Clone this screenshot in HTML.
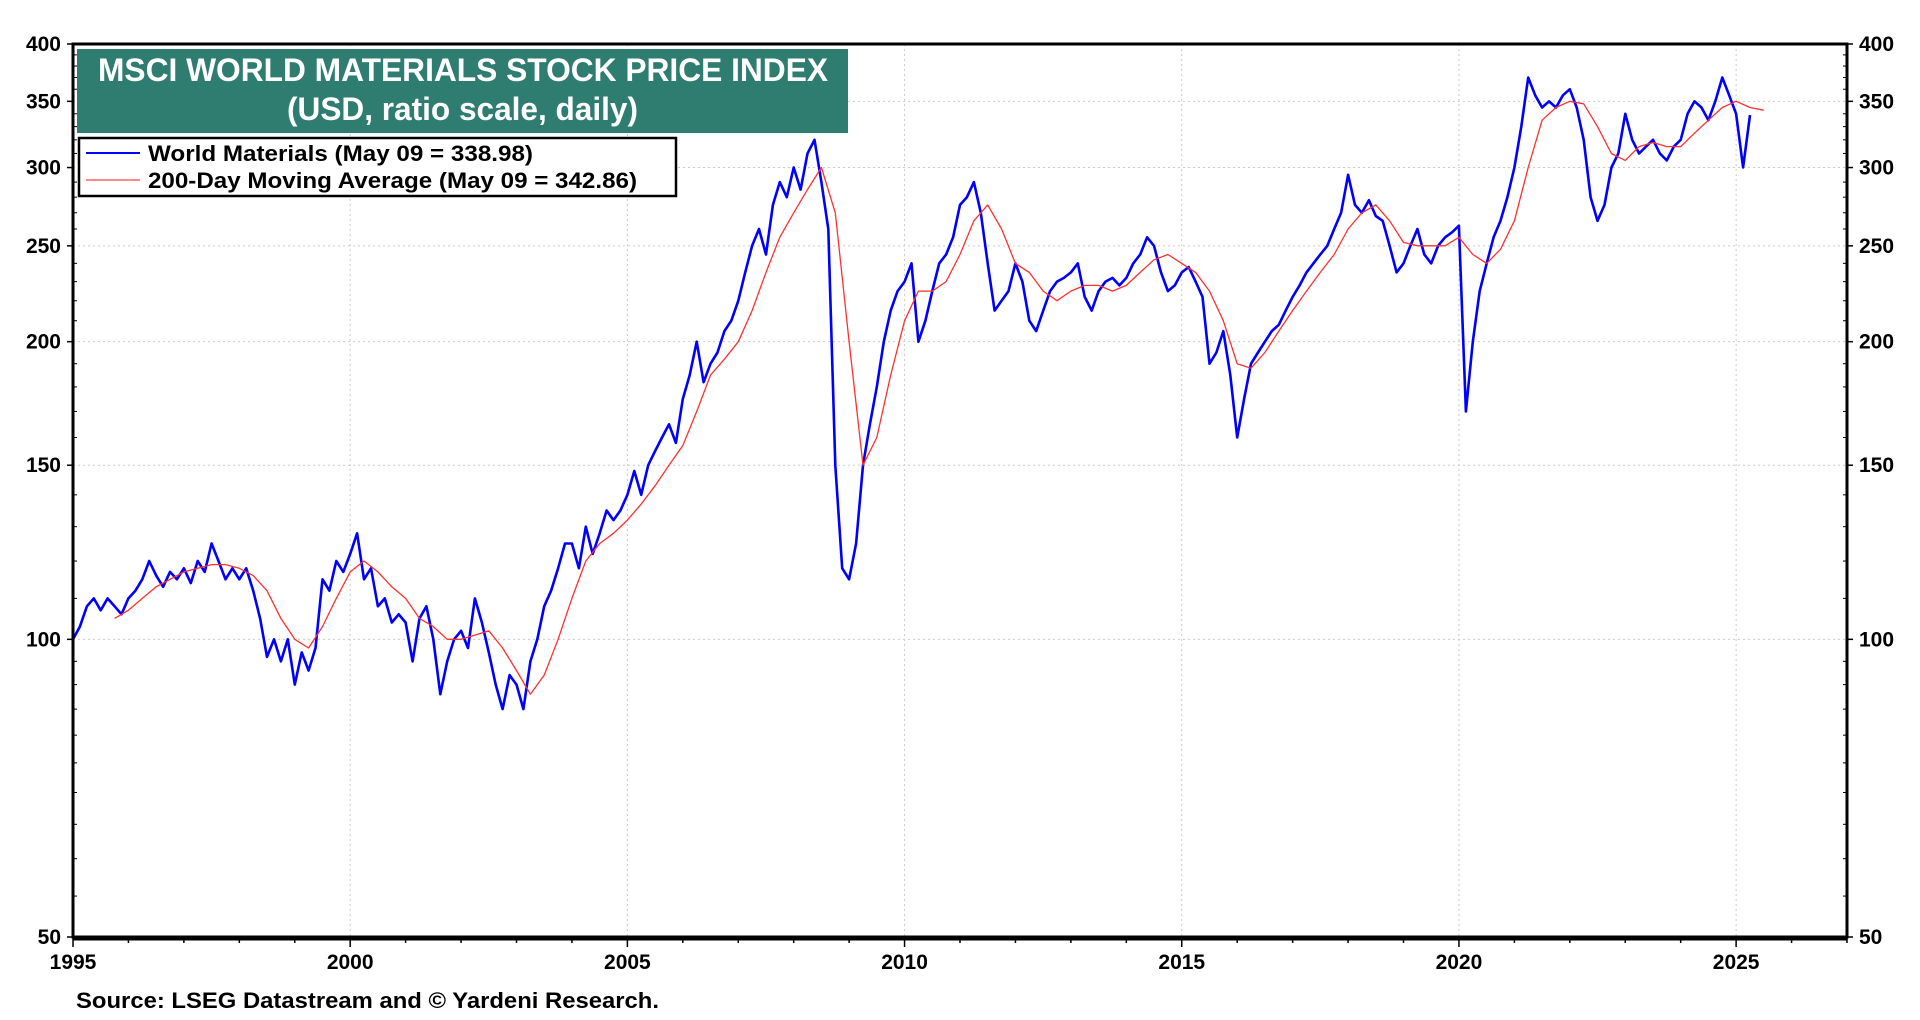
<!DOCTYPE html>
<html><head><meta charset="utf-8"><style>
html,body{margin:0;padding:0;background:#fff;}
svg{display:block;font-family:"Liberation Sans",Arial,sans-serif;font-weight:bold;}
</style></head><body>
<svg id="chart" width="1920" height="1020" viewBox="0 0 1920 1020" xmlns="http://www.w3.org/2000/svg">
<g id="grid"></g>
<g id="series"></g>
<g id="axes"></g>
<g>
<rect x="77" y="49" width="771" height="84" fill="#2e7d70"/>
<text x="98" y="81" textLength="730" lengthAdjust="spacingAndGlyphs" fill="#fff" font-size="32">MSCI WORLD MATERIALS STOCK PRICE INDEX</text>
<text x="287" y="120" textLength="351" lengthAdjust="spacingAndGlyphs" fill="#fff" font-size="32">(USD, ratio scale, daily)</text>
</g>
<g>
<rect x="79" y="138" width="597" height="58" fill="#fff" stroke="#000" stroke-width="2.5"/>
<line x1="86" y1="153" x2="140" y2="153" stroke="#0000ff" stroke-width="2"/>
<text x="148" y="161" textLength="385" lengthAdjust="spacingAndGlyphs" font-size="22">World Materials (May 09 = 338.98)</text>
<line x1="86" y1="180" x2="140" y2="180" stroke="#ff4040" stroke-width="1.3"/>
<text x="148" y="188" textLength="489" lengthAdjust="spacingAndGlyphs" font-size="22">200-Day Moving Average (May 09 = 342.86)</text>
</g>
<text x="76" y="1008" textLength="583" lengthAdjust="spacingAndGlyphs" font-size="22">Source: LSEG Datastream and © Yardeni Research.</text>
</svg>
<script>
const yTicks=[50,100,150,200,250,300,350,400];
const xTicks=[1995,2000,2005,2010,2015,2020,2025];
const priceStart=1995.0;
const priceStep=0.125;
const priceValues=[
100,103,108,110,107,110,108,106,
110,112,115,120,116,113,117,115,
118,114,120,117,125,120,115,118,
115,118,112,105,96,100,95,100,
90,97,93,98,115,112,120,117,
122,128,115,118,108,110,104,106,
104,95,105,108,100,88,95,100,
102,98,110,104,97,90,85,92,
90,85,95,100,108,112,118,125,
125,118,130,122,128,135,132,135,
140,148,140,150,155,160,165,158,
175,185,200,182,190,195,205,210,
220,235,250,260,245,275,290,280,
300,285,310,320,290,260,150,118,
115,125,150,165,180,200,215,225,
230,240,200,210,225,240,245,255,
275,280,290,270,240,215,220,225,
240,230,210,205,215,225,230,232,
235,240,222,215,225,230,232,228,
232,240,245,255,250,235,225,228,
235,238,230,222,190,195,205,185,
160,175,190,195,200,205,208,215,
222,228,235,240,245,250,260,270,
295,275,270,278,268,265,250,235,
240,250,260,245,240,250,255,258,
262,170,200,225,240,255,265,280,
300,330,370,355,345,350,345,355,
360,345,320,280,265,275,300,310,
340,320,310,315,320,310,305,315,
320,340,350,345,335,350,370,355,
340,300,338.98];
const maStart=1995.75;
const maStep=0.25;
const maValues=[105,107,110,113,115,117,118,119,119,118,116,112,105,100,98,103,110,117,120,117,113,110,105,103,100,100,101,102,98,93,88,92,100,110,120,125,128,132,137,143,150,157,170,185,192,200,215,235,255,270,285,300,270,200,150,160,185,210,225,225,230,245,265,275,260,240,235,225,220,225,228,228,225,228,235,242,245,240,235,225,210,190,188,195,205,215,225,235,245,260,270,275,265,252,250,250,250,255,245,240,248,265,300,335,345,350,348,330,310,305,315,318,315,315,325,335,345,350,345,342.86];

const L=73,R=1847,T=44,B=937,X0=1995,X1=2027,Y0=50,Y1=400;
const xs=v=>L+(v-X0)/(X1-X0)*(R-L);
const ys=v=>B-Math.log(v/Y0)/Math.log(Y1/Y0)*(B-T);
const NS="http://www.w3.org/2000/svg";
function mk(tag,parent,attrs){const e=document.createElementNS(NS,tag);for(const k in attrs)e.setAttribute(k,attrs[k]);parent.appendChild(e);return e;}
const grid=document.getElementById('grid'),axes=document.getElementById('axes'),series=document.getElementById('series');
yTicks.forEach(v=>{
  if(v>Y0&&v<Y1){const g=mk('line',grid,{x1:L,x2:R,y1:ys(v),y2:ys(v),stroke:'#ccc','stroke-dasharray':'2,3'});
  
  }
  const t1=mk('text',axes,{x:L-12,y:ys(v)+7,'text-anchor':'end','font-size':'21'});t1.textContent=v;
  
  
  const t2=mk('text',axes,{x:R+12,y:ys(v)+7,'text-anchor':'start','font-size':'21'});t2.textContent=v;
  
  
  mk('line',axes,{x1:L-6,x2:L,y1:ys(v),y2:ys(v),stroke:'#000','stroke-width':1.5});
  mk('line',axes,{x1:R,x2:R+6,y1:ys(v),y2:ys(v),stroke:'#000','stroke-width':1.5});
});
for(let v=55;v<400;v+=(v<100?5:10)){if(yTicks.includes(v))continue;
  mk('line',axes,{x1:L,x2:L+4,y1:ys(v),y2:ys(v),stroke:'#000','stroke-width':1});
  mk('line',axes,{x1:R-4,x2:R,y1:ys(v),y2:ys(v),stroke:'#000','stroke-width':1});}
xTicks.forEach(v=>{
  if(v>X0){const g=mk('line',grid,{x1:xs(v),x2:xs(v),y1:T,y2:B,stroke:'#ccc','stroke-dasharray':'2,3'});
  
  }
  const t=mk('text',axes,{x:xs(v),y:969,'text-anchor':'middle','font-size':'21'});t.textContent=v;
  
  
});
for(let y=X0;y<=X1;y++)mk('line',axes,{x1:xs(y),x2:xs(y),y1:B,y2:B+(y%5==0?10:6),stroke:'#000','stroke-width':1.5});
const frame=mk('rect',axes,{x:L,y:T,width:R-L,height:B-T,fill:'none',stroke:'#000','stroke-width':3});


mk('line',axes,{x1:L,x2:R,y1:B+1,y2:B+1,stroke:'#000','stroke-width':5});
function path(start,step,vals,color,w,name){
  const d=vals.map((v,i)=>(i?'L':'M')+xs(start+i*step).toFixed(1)+','+ys(v).toFixed(1)).join('');
  const p=mk('path',series,{d:d,fill:'none',stroke:color,'stroke-width':w,'stroke-linejoin':'round'});
  
  
}
path(priceStart,priceStep,priceValues,'#0000ff',2.6,'world-materials-line');
path(maStart,maStep,maValues,'#ff3030',1.3,'moving-average-line');
</script>
</body></html>
